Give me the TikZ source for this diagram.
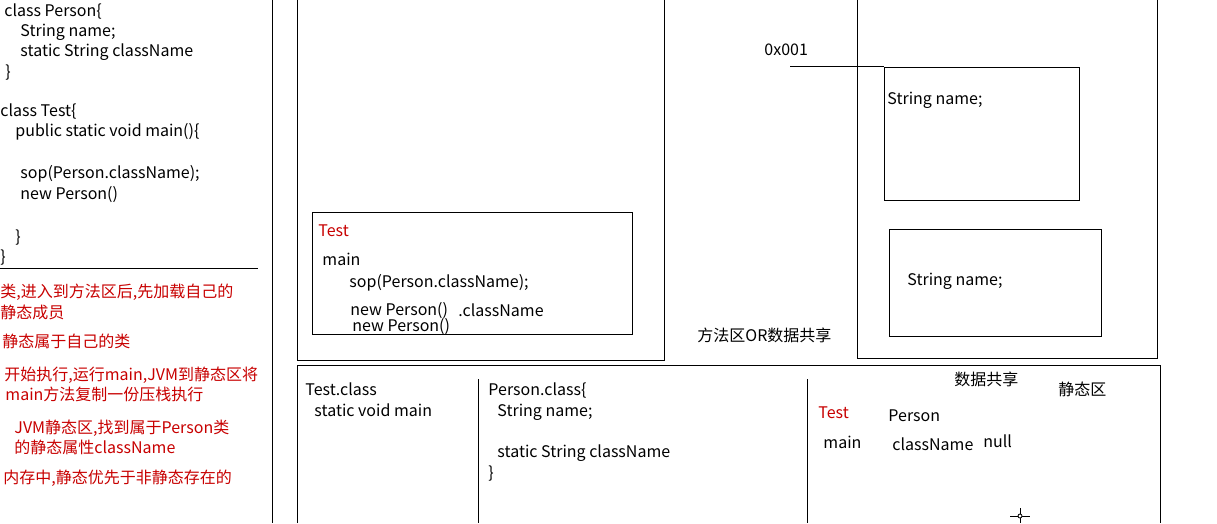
\documentclass[tikz,border=0pt]{standalone}
\usepackage{fontspec}
\setmainfont{Noto Sans CJK SC}
\definecolor{notered}{RGB}{200,0,0}
\newcommand{\fs}{\fontsize{16}{18}\selectfont}
\begin{document}
\begin{tikzpicture}[x=1pt,y=-1pt,line width=0.9pt,
  txt/.style={anchor=base west,inner sep=0pt,font=\fs},
  note/.style={txt,text=notered},
  box/.style={draw,line width=0.9pt,anchor=north west,inner sep=0pt}]
\useasboundingbox (0,0) rectangle (1217,523);
\fill[white] (0,0) rectangle (1217,523);
% left panel code
\node[txt] (c1) at (4,16) {class Person\{};
\node[txt] (c2) at (20,36) {String name;};
\node[txt] (c3) at (20,56) {static String className};
\node[txt] (c4) at (5,77) {\}};
\node[txt] (c5) at (0,116) {class Test\{};
\node[txt] (c6) at (15,136) {public static void main()\{};
\node[txt] (c7) at (20,178) {sop(Person.className);};
\node[txt] (c8) at (20,199) {new Person()};
\node[txt] (c9) at (15,242) {\}};
\node[txt] (c10) at (0,262) {\}};
\draw (0,268) -- (258,268);
\draw (272,0) -- (272,523);
% notes
\node[note] (n1) at (0,297) {类,进入到方法区后,先加载自己的};
\node[note] (n2) at (0,318) {静态成员};
\node[note] (n3) at (2,347) {静态属于自己的类};
\node[note] (n4) at (4,380) {开始执行,运行main,JVM到静态区将};
\node[note] (n5) at (5,400) {main方法复制一份压栈执行};
\node[note] (n6) at (14,433) {JVM静态区,找到属于Person类};
\node[note] (n7) at (14,453) {的静态属性className};
\node[note] (n8) at (3,483) {内存中,静态优先于非静态存在的};
% stack
\draw (297,0) -- (297,360) -- (664,360) -- (664,0);
\node[box,minimum width=320pt,minimum height=122pt] (testbox) at (312,212) {};
\node[note] (t1) at (318,236) {Test};
\node[txt] (t2) at (322,265) {main};
\node[txt] (t3) at (349,287) {sop(Person.className);};
\node[txt] (t4) at (350,315) {new Person()};
\node[txt] (t5) at (458,316) {.className};
\node[txt] (t6) at (352,331) {new Person()};
% heap
\draw (857,0) -- (857,358) -- (1157,358) -- (1157,0);
\node[box,minimum width=195pt,minimum height=133pt] (obj1) at (884,67) {};
\node[box,minimum width=212pt,minimum height=107pt] (obj2) at (889,229) {};
\node[txt] (o1) at (887,104) {String name;};
\node[txt] (o2) at (907,285) {String name;};
\node[txt] (addr) at (764,55) {0x001};
\coordinate (ptr) at (790,66);
\draw (ptr) -- (ptr -| obj1.west);
\node[txt] (area) at (697,341) {方法区OR数据共享};
% method area
\draw (297,523) -- (297,365) -- (1160,365) -- (1160,523);
\draw (478,379) -- (478,523);
\draw (807,379) -- (807,523);
\node[txt] (m1) at (305,395) {Test.class};
\node[txt] (m2) at (314,416) {static void main};
\node[txt] (m3) at (488,395) {Person.class\{};
\node[txt] (m4) at (497,416) {String name;};
\node[txt] (m5) at (497,457) {static String className};
\node[txt] (m6) at (488,478) {\}};
\node[txt] (s1) at (954,385) {数据共享};
\node[txt] (s2) at (1058,395) {静态区};
\node[note] (s3) at (818,418) {Test};
\node[txt] (s4) at (888,421) {Person};
\node[txt] (s5) at (823,448) {main};
\node[txt] (s6) at (892,450) {className};
\node[txt] (s7) at (983,447) {null};
% cursor
\draw[line width=0.8pt] (1020,508) -- (1020,523) (1010,516) -- (1030,516);
\draw[line width=0.8pt,fill=white] (1020,516) circle (2pt);
\end{tikzpicture}
\end{document}
